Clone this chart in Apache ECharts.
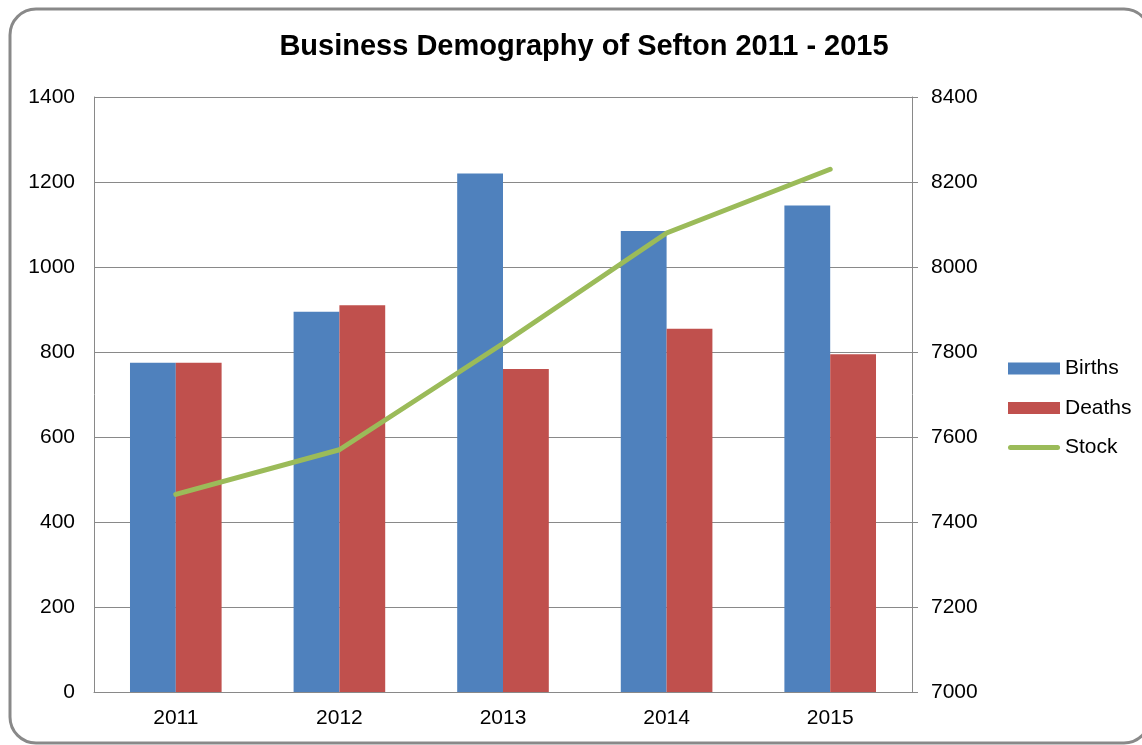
<!DOCTYPE html>
<html>
<head>
<meta charset="utf-8">
<script src="https://cdn.jsdelivr.net/npm/echarts@6/dist/echarts.min.js"></script>
<style>
  html, body { margin: 0; padding: 0; background: #fff; }
  #main { width: 1142px; height: 745px; }
</style>
</head>
<body>
<div id="main"></div>
<script>
// data
const years = ["2011", "2012", "2013", "2014", "2015"];
const births = [775, 895, 1220, 1085, 1145];
const deaths = [775, 910, 760, 855, 795];
const stock = [7465, 7570, 7820, 8080, 8230];

var chartDom = document.getElementById("main");
var myChart = echarts.init(chartDom);

const gridColor = "#898989";
const font = "Liberation Sans, Arial, sans-serif";
const plain = (v) => String(v); // no thousands separators

var option = {
  backgroundColor: "#fff",
  animation: false,
  textStyle: { fontFamily: font },
  graphic: [
    {
      type: "rect",
      shape: { x: 10, y: 9, width: 1140, height: 734, r: 26 },
      style: { fill: "none", stroke: gridColor, lineWidth: 3 },
      z: -1,
    },
  ],
  title: {
    text: "Business Demography of Sefton 2011 - 2015",
    left: 579,
    textAlign: "center",
    top: 27,
    textStyle: { fontFamily: font, fontSize: 29, fontWeight: "bold", color: "#000" },
  },
  legend: {
    orient: "vertical",
    left: 1008,
    top: 358,
    padding: 0,
    itemWidth: 52,
    itemHeight: 12,
    itemGap: 18.5,
    textStyle: { fontFamily: font, fontSize: 21, color: "#000" },
    data: [
      { name: "Births", icon: "rect" },
      { name: "Deaths", icon: "rect" },
      {
        name: "Stock",
        icon: "path://M2.5,0 L49.5,0 A2.5,2.5 0 0 1 49.5,5 L2.5,5 A2.5,2.5 0 0 1 2.5,0 Z",
      },
    ],
  },
  grid: { left: 94, right: 230, top: 97, bottom: 53 },
  xAxis: {
    type: "category",
    data: years,
    axisLine: { lineStyle: { color: gridColor, width: 1 } },
    axisTick: { show: false },
    axisLabel: { fontSize: 21, color: "#000", margin: 16, fontFamily: font },
  },
  yAxis: [
    {
      type: "value",
      min: 0,
      max: 1400,
      interval: 200,
      axisLine: { show: true, lineStyle: { color: gridColor } },
      axisTick: { show: false },
      axisLabel: { fontSize: 21, color: "#000", margin: 19, fontFamily: font, formatter: plain },
      splitLine: { lineStyle: { color: gridColor, width: 1 } },
    },
    {
      type: "value",
      min: 7000,
      max: 8400,
      interval: 200,
      axisLine: { show: true, lineStyle: { color: gridColor } },
      axisTick: { show: true, length: 6, lineStyle: { color: gridColor } },
      axisLabel: { fontSize: 21, color: "#000", margin: 19, fontFamily: font, formatter: plain },
      splitLine: { show: false },
    },
  ],
  series: [
    {
      name: "Births",
      type: "bar",
      data: births,
      barGap: 0,
      barCategoryGap: "44%",
      itemStyle: { color: "#4F81BD" },
    },
    {
      name: "Deaths",
      type: "bar",
      data: deaths,
      itemStyle: { color: "#C0504D" },
    },
    {
      name: "Stock",
      type: "line",
      yAxisIndex: 1,
      data: stock,
      symbol: "none",
      lineStyle: { color: "#9BBB59", width: 5, cap: "round" },
      itemStyle: { color: "#9BBB59" },
    },
  ],
};

option && myChart.setOption(option);
</script>
</body>
</html>
